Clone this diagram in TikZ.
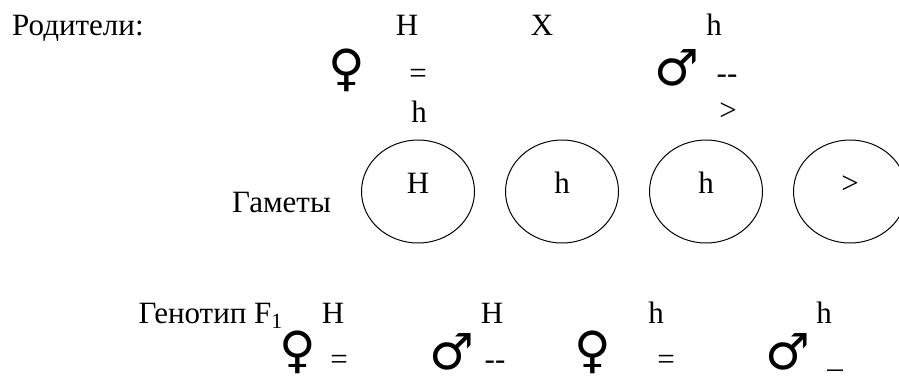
\documentclass[tikz,border=0pt]{standalone}
\usepackage{fontspec}
\setmainfont{Liberation Serif}
\newfontfamily\symfont{DejaVu Sans}
\usetikzlibrary{shapes.geometric}
\tikzset{
  txt/.style={inner sep=0pt, anchor=base, font=\fontsize{31}{36}\selectfont},
  sym/.style={inner sep=0pt, anchor=center, font=\symfont\fontsize{50}{58}\selectfont},
  gamete/.style={draw, ellipse, line width=1pt, minimum width=113pt, minimum height=103pt, inner sep=0pt}
}
\begin{document}
\begin{tikzpicture}[x=1pt,y=-1pt]
\clip (0,0) rectangle (899,376);
\fill[white] (0,0) rectangle (899,376);
% Parents
\node[txt, anchor=base west] (par) at (12,35) {Родители:};
\node[txt] (pH) at (407,35) {H};
\node[txt] (pX) at (542,35) {X};
\node[txt] (ph) at (714,35) {h};
\node[sym] (pf) at (347,70) {♀};
\node[txt] (peq) at (418,83) {=};
\node[sym] (pm) at (677,68) {♂};
\node[txt] (pdd) at (727,83) {-{}-};
\node[txt] (ph2) at (419,122) {h};
\node[txt] (pgt) at (728,120) {>};
% Gametes
\node[txt, anchor=base east] (gam) at (331,212) {Гаметы};
\node[gamete] (g1) at (418,191.5) {};
\node[gamete] (g2) at (562,191.5) {};
\node[gamete] (g3) at (706,191.5) {};
\node[gamete] (g4) at (850,191.5) {};
\node[txt] (g1t) at (418,193) {H};
\node[txt] (g2t) at (562,193) {h};
\node[txt] (g3t) at (706,193) {h};
\node[txt] (g4t) at (850,193) {>};
% F1
\node[txt, anchor=base east] (gen) at (283,323) {Генотип F\textsubscript{1}};
\node[txt] (f1) at (333,323) {H};
\node[txt] (f2) at (492,323) {H};
\node[txt] (f3) at (656,323) {h};
\node[txt] (f4) at (824,323) {h};
\node[sym] (s1) at (298,352) {♀};
\node[txt] (e1) at (339,369) {=};
\node[sym] (s2) at (452,352) {♂};
\node[txt] (e2) at (495,369) {-{}-};
\node[sym] (s3) at (593,352) {♀};
\node[txt] (e3) at (666,369) {=};
\node[sym] (s4) at (788,352) {♂};
\node[txt] (e4) at (835,367) {\_};
\end{tikzpicture}
\end{document}
